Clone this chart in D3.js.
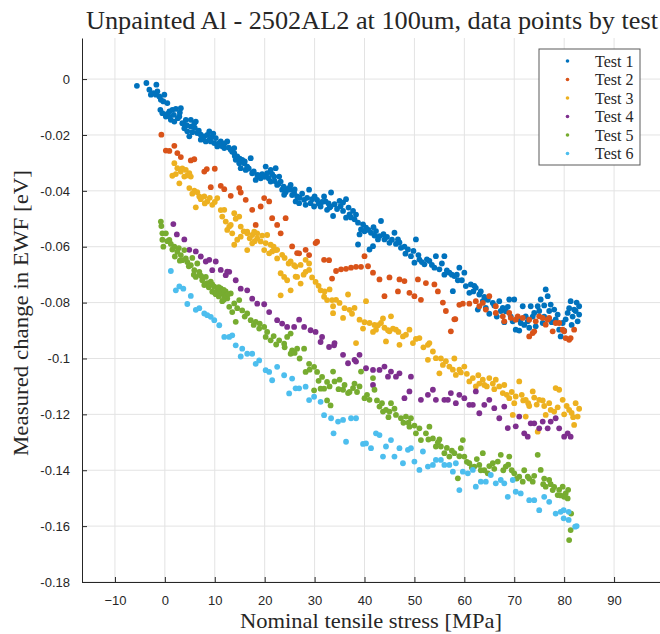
<!DOCTYPE html>
<html lang="en">
<head>
    <meta charset="UTF-8">
    <title>Unpainted Al - 2502AL2 at 100um, data points by test</title>
    <script src="https://d3js.org/d3.v7.min.js"></script>
    <style>
        body { margin: 0; background: #fff; }
        .tick text { font-family: "Liberation Sans", Arial, sans-serif; font-size: 13px; fill: #262626; }
        .serif { font-family: "Liberation Serif", "Times New Roman", serif; fill: #262626; }
        .grid line { stroke: #e3e3e3; stroke-width: 1px; }
    </style>
</head>
<body>
    <svg width="660" height="634"></svg>

    <script>
        // data: [stress MPa, change in EWF eV]
        var test1 = [[-5.6,-0.0024],[-3.7,-0.0014],[-1.7,-0.0020],[-3.1,-0.0038],[-2.8,-0.0056],[-2.3,-0.0050],[-1.5,-0.0044],[-1.1,-0.0062],[-0.8,-0.0074],[-0.3,-0.0080],[-1.8,-0.0056],[-0.1,-0.0056],[0.5,-0.0086],
            [-0.9,-0.0110],[-0.5,-0.0122],[0.2,-0.0134],[0.9,-0.0116],[1.5,-0.0110],[2.2,-0.0107],[3.2,-0.0104],[1.2,-0.0146],[1.9,-0.0152],[2.9,-0.0134],[3.5,-0.0158],[3.9,-0.0176],[4.5,-0.0187],[4.9,-0.0205],[5.2,-0.0170],[5.9,-0.0158],[6.2,-0.0152],[5.2,-0.0146],[4.2,-0.0146],
            [6.5,-0.0193],[7.2,-0.0199],[7.9,-0.0205],[8.2,-0.0223],[8.9,-0.0187],[9.5,-0.0205],[9.9,-0.0229],[7.2,-0.0217],[9.2,-0.0223],[10.2,-0.0211],
            [10.5,-0.0241],[11.2,-0.0223],[11.9,-0.0247],[12.5,-0.0223],[13.2,-0.0253],[13.9,-0.0265],[13.9,-0.0247],[14.2,-0.0289],[14.5,-0.0277],[14.9,-0.0301],[15.2,-0.0319],[15.5,-0.0289],[15.9,-0.0301],[16.2,-0.0325],[16.5,-0.0313],[17.2,-0.0283],[17.5,-0.0337],[18.2,-0.0361],[18.5,-0.0343],[19.2,-0.0355],
            [20.2,-0.0313],[20.5,-0.0337],[21.2,-0.0367],[21.2,-0.0325],[21.9,-0.0349],[22.2,-0.0319],[22.5,-0.0379],[22.9,-0.0349],[23.2,-0.0367],[23.5,-0.0396],[23.9,-0.0414],[24.5,-0.0396],[25.2,-0.0379],[25.2,-0.0396],[25.9,-0.0408],[26.2,-0.0438],[26.5,-0.0420],[26.9,-0.0444],[27.9,-0.0432],[28.2,-0.0450],[28.9,-0.0396],[29.2,-0.0444],[29.9,-0.0456],[30.5,-0.0432],[31.2,-0.0456],[31.9,-0.0420],[32.2,-0.0438],[32.5,-0.0468],[33.2,-0.0456],
            [33.3,-0.0406],[33.0,-0.0460],[34.0,-0.0448],[33.7,-0.0490],[35.0,-0.0436],[35.7,-0.0442],[36.3,-0.0430],[35.7,-0.0472],[36.3,-0.0496],[37.0,-0.0484],[37.7,-0.0472],[38.0,-0.0502],[38.7,-0.0514],[39.3,-0.0538],[39.0,-0.0556],[40.3,-0.0532],[41.3,-0.0550],[42.3,-0.0544],[43.0,-0.0562],[43.3,-0.0508],[42.7,-0.0574],[44.0,-0.0574],[45.0,-0.0586],[46.0,-0.0550],[46.7,-0.0574],[41.7,-0.0598],[38.7,-0.0592],[41.0,-0.0610],
            [47.3,-0.0604],[48.7,-0.0610],[49.3,-0.0634],[50.3,-0.0574],[50.0,-0.0657],[51.0,-0.0646],[52.0,-0.0663],[53.0,-0.0651],[54.3,-0.0634],[56.0,-0.0634],[54.0,-0.0675],[55.0,-0.0681],[56.0,-0.0700],[57.0,-0.0693],[58.0,-0.0705],[57.7,-0.0759],[59.0,-0.0675],[60.0,-0.0693],[60.3,-0.0741],[61.3,-0.0735],[62.3,-0.0747],[63.0,-0.0771],[63.7,-0.0795],[62.7,-0.0825],[64.3,-0.0819],[65.7,-0.0801],
            [67.0,-0.0795],[67.7,-0.0819],[69.0,-0.0789],[68.3,-0.0831],[69.7,-0.0867],[70.3,-0.0897],[71.3,-0.0873],[72.3,-0.0849],[73.3,-0.0813],[74.0,-0.0837],[74.7,-0.0813],[75.3,-0.0789],[76.3,-0.0753],[76.7,-0.0777],[77.3,-0.0807],[78.0,-0.0825],[78.7,-0.0843],[79.0,-0.0897],[79.7,-0.0873],[80.7,-0.0837],[81.3,-0.0795],[82.0,-0.0825],[83.0,-0.0813],[82.7,-0.0867],[83.0,-0.0843],[70.0,-0.0789],[72.7,-0.0867],[74.3,-0.0885],[75.7,-0.0873],[71.7,-0.0813],[79.3,-0.0921],
            [58.7,-0.0720],[61.0,-0.0765],[64.0,-0.0780],[65.0,-0.0840],[66.5,-0.0850],[68.0,-0.0870],[71.0,-0.0900],[73.0,-0.0890],[76.0,-0.0850],[77.5,-0.0870],[80.0,-0.0900],[81.5,-0.0880],[82.5,-0.0800],
            [0.5,-0.0125],[1.0,-0.0135],[1.8,-0.0128],[2.6,-0.0140],[3.0,-0.0120],[3.8,-0.0160],[4.4,-0.0165],[5.5,-0.0190],[6.0,-0.0175],[6.8,-0.0185],[7.5,-0.0210],[8.5,-0.0200],[9.0,-0.0215],[9.7,-0.0195],[10.8,-0.0230],[11.5,-0.0240],[12.0,-0.0230],[12.8,-0.0245],[13.5,-0.0260],[14.0,-0.0275],[15.0,-0.0285],[16.0,-0.0295],[16.8,-0.0320],[17.8,-0.0330],[18.8,-0.0345],[19.5,-0.0340],[20.0,-0.0350],[20.8,-0.0355],[21.5,-0.0340],[22.0,-0.0365],[22.8,-0.0375],[23.8,-0.0385],[24.2,-0.0405],[24.8,-0.0390],[25.5,-0.0415],[26.0,-0.0395],[27.0,-0.0425],[27.5,-0.0410],[28.5,-0.0425],[29.5,-0.0430],[30.0,-0.0420],[30.8,-0.0445],[31.5,-0.0440],[32.8,-0.0445],
            [34.5,-0.0465],[35.2,-0.0455],[36.8,-0.0460],[37.3,-0.0495],[38.3,-0.0485],[39.7,-0.0520],[40.0,-0.0545],[40.8,-0.0540],[41.8,-0.0530],[42.0,-0.0560],[43.8,-0.0555],[44.5,-0.0565],[45.5,-0.0575],[46.3,-0.0590],[47.0,-0.0585],[48.0,-0.0600],[48.2,-0.0625],[49.8,-0.0615],[50.8,-0.0630],[51.5,-0.0655],[52.5,-0.0645],[53.5,-0.0665],[55.5,-0.0660],[56.5,-0.0685],[57.5,-0.0700],[58.5,-0.0700],[59.5,-0.0720],[61.8,-0.0760],[62.0,-0.0740],[63.3,-0.0760],[64.7,-0.0790],[66.0,-0.0810],[67.3,-0.0830],[68.7,-0.0815],[69.3,-0.0850],[71.0,-0.0860],[72.0,-0.0880],[73.7,-0.0850],[75.0,-0.0830],[76.0,-0.0810],[77.0,-0.0830],[78.3,-0.0860],[80.3,-0.0860],[81.0,-0.0820],[82.3,-0.0830],[81.7,-0.0850]];

        var test2 = [[-0.7,-0.0199],[0.2,-0.0256],[0.9,-0.0257],[1.9,-0.0239],[2.5,-0.0265],[3.2,-0.0279],[5.2,-0.0291],[5.9,-0.0287],[7.9,-0.0331],[8.4,-0.0322],[10.0,-0.0321],[9.2,-0.0387],[11.2,-0.0382],[11.9,-0.0394],[13.2,-0.0418],[14.9,-0.0390],[15.2,-0.0406],[16.2,-0.0432],[17.5,-0.0468],[19.2,-0.0456],[19.9,-0.0426],[20.9,-0.0438],
            [21.5,-0.0498],[22.5,-0.0522],[24.2,-0.0498],[23.2,-0.0552],[18.2,-0.0522],[25.5,-0.0599],[26.5,-0.0623],[28.2,-0.0611],[30.2,-0.0587],[30.5,-0.0582],[31.9,-0.0647],[26.9,-0.0624],[28.9,-0.0630],[32.9,-0.0648],[33.5,-0.0714],
            [34.3,-0.0687],[35.3,-0.0681],[36.3,-0.0679],[37.3,-0.0675],[38.3,-0.0672],[39.3,-0.0672],[40.0,-0.0634],[40.7,-0.0670],[41.7,-0.0693],[43.0,-0.0717],[45.0,-0.0710],[47.0,-0.0717],[48.0,-0.0723],[44.0,-0.0777],[46.7,-0.0760],[49.0,-0.0765],[50.0,-0.0777],[51.3,-0.0790],[50.7,-0.0717],[52.3,-0.0730],[54.0,-0.0735],[54.7,-0.0760],[55.7,-0.0800],[56.3,-0.0830],[58.0,-0.0860],[57.3,-0.0903],[58.2,-0.0859],
            [59.0,-0.0808],[59.7,-0.0804],[61.0,-0.0804],[62.3,-0.0795],[63.7,-0.0801],[65.0,-0.0777],[66.3,-0.0813],[63.0,-0.0813],[64.3,-0.0825],[66.3,-0.0837],[67.7,-0.0849],[69.0,-0.0837],[70.3,-0.0861],[71.7,-0.0855],[73.0,-0.0861],[74.3,-0.0867],[75.7,-0.0855],[77.0,-0.0855],[78.3,-0.0873],[79.7,-0.0897],[81.0,-0.0933],[82.0,-0.0897],[73.0,-0.0921],[73.7,-0.0909],[77.7,-0.0903],
            [68.0,-0.0867],[69.3,-0.0855],[70.7,-0.0849],[75.0,-0.0849],[76.7,-0.0861],[79.0,-0.0873],[80.0,-0.0903],[80.3,-0.0927],[74.0,-0.0903],[76.3,-0.0879],[81.3,-0.0927]];

        var test3 = [[1.9,-0.0301],[1.5,-0.0346],[2.5,-0.0319],[3.2,-0.0331],[4.2,-0.0325],[4.9,-0.0337],[3.9,-0.0349],[5.2,-0.0349],[2.9,-0.0373],[4.9,-0.0390],[5.9,-0.0399],[6.9,-0.0420],[6.2,-0.0459],[7.9,-0.0420],[8.5,-0.0438],[9.5,-0.0450],[10.5,-0.0426],[11.9,-0.0468],[11.5,-0.0492],[12.2,-0.0510],[12.9,-0.0528],[13.9,-0.0480],[14.9,-0.0492],[12.5,-0.0540],[13.9,-0.0593],[15.2,-0.0564],[16.5,-0.0546],[17.5,-0.0558],[18.5,-0.0552],[19.2,-0.0581],[20.2,-0.0587],[21.5,-0.0617],[22.5,-0.0611],[23.5,-0.0629],[25.2,-0.0653],[26.2,-0.0671],[27.2,-0.0665],[28.2,-0.0647],[28.9,-0.0683],[23.2,-0.0695],[26.2,-0.0707],
            [11.2,-0.0469],[13.2,-0.0522],[15.2,-0.0528],[13.5,-0.0552],[16.5,-0.0552],[17.9,-0.0546],[18.5,-0.0570],[20.5,-0.0558],[21.2,-0.0593],[16.5,-0.0612],[17.5,-0.0588],[19.9,-0.0612],[20.9,-0.0624],[22.2,-0.0612],[22.5,-0.0642],[23.9,-0.0708],[23.2,-0.0774],[25.2,-0.0756],[24.5,-0.0720],[25.9,-0.0666],[26.5,-0.0708],[27.2,-0.0732],[28.2,-0.0690],[28.9,-0.0660],[30.2,-0.0726],[31.2,-0.0756],[31.9,-0.0779],[32.5,-0.0791],[33.5,-0.0791],
            [33.0,-0.0753],[33.7,-0.0813],[35.0,-0.0801],[36.7,-0.0771],[38.0,-0.0819],[40.3,-0.0795],[39.0,-0.0861],[41.0,-0.0873],[42.3,-0.0897],[43.3,-0.0873],[45.3,-0.0849],[45.0,-0.0903],[46.3,-0.0897],[47.7,-0.0921],[49.0,-0.0897],[51.0,-0.0927],[52.7,-0.0951],[38.3,-0.0945],
            [33.7,-0.0838],[35.7,-0.0855],[37.0,-0.0826],[39.7,-0.0893],[41.7,-0.0905],[42.7,-0.0881],[43.7,-0.0857],[44.7,-0.0899],[45.7,-0.0893],[49.7,-0.0945],[47.0,-0.0951],[44.3,-0.0939],[53.0,-0.0945],[52.7,-0.1005],[54.3,-0.0999],[55.7,-0.1023],[57.0,-0.1029],[58.3,-0.1059],[55.0,-0.1053],[60.0,-0.1029],
            [61.0,-0.1082],[62.3,-0.1100],[63.7,-0.1076],[65.0,-0.1070],[66.3,-0.1076],[67.7,-0.1124],[69.0,-0.1142],[70.3,-0.1136],[71.0,-0.1082],[72.3,-0.1148],[73.7,-0.1118],[75.0,-0.1148],[76.3,-0.1202],[77.3,-0.1184],[78.3,-0.1106],[79.0,-0.1112],[79.7,-0.1148],[81.0,-0.1184],[82.3,-0.1160],[82.7,-0.1208],[82.0,-0.1238],[74.7,-0.1262],[72.3,-0.1208],[69.7,-0.1202],
            [58.0,-0.1000],[59.0,-0.1040],[60.5,-0.1055],[63.0,-0.1090],[64.5,-0.1100],[66.0,-0.1110],[68.0,-0.1095],[70.0,-0.1160],[71.5,-0.1130],[73.0,-0.1170],[74.0,-0.1140],[76.0,-0.1170],[78.0,-0.1190],[80.0,-0.1200],[81.5,-0.1195],
            [2.2,-0.0340],[3.5,-0.0320],[4.5,-0.0345],[5.5,-0.0410],[6.5,-0.0405],[7.2,-0.0430],[8.0,-0.0445],[9.0,-0.0425],[10.0,-0.0440],[14.2,-0.0500],[14.5,-0.0575],[15.8,-0.0545],[17.0,-0.0570],[18.0,-0.0580],[19.5,-0.0560],[21.8,-0.0600],[24.0,-0.0640],[24.8,-0.0660],[27.8,-0.0700],[29.5,-0.0710],[30.8,-0.0740],[32.0,-0.0760],[34.3,-0.0790],[36.0,-0.0820],[37.5,-0.0840],[40.0,-0.0870],[42.0,-0.0880],[44.0,-0.0890],[46.8,-0.0905],[48.3,-0.0915],[50.3,-0.0930],[51.8,-0.0960],[53.7,-0.0975],[55.3,-0.1000],[56.3,-0.1010],[57.7,-0.1040],[59.3,-0.1050],[61.7,-0.1070],[62.8,-0.1060],[64.0,-0.1095],[65.7,-0.1090],[67.0,-0.1100],[68.5,-0.1130],[69.5,-0.1120],[71.8,-0.1150],[72.8,-0.1160],[74.5,-0.1165],[75.7,-0.1150],[77.0,-0.1160],[78.7,-0.1175],[80.5,-0.1170],[81.8,-0.1210],[83.0,-0.1180]];

        var test4 = [[1.7,-0.0519],[2.4,-0.0556],[3.9,-0.0574],[4.9,-0.0611],[6.2,-0.0617],[7.2,-0.0635],[8.2,-0.0653],[8.9,-0.0647],[10.2,-0.0653],[11.2,-0.0683],[12.5,-0.0689],[9.5,-0.0684],[12.2,-0.0702],[12.9,-0.0690],[14.2,-0.0720],[15.2,-0.0750],[16.5,-0.0756],[17.5,-0.0786],[18.5,-0.0804],[19.9,-0.0806],[20.9,-0.0834],[22.5,-0.0863],[23.5,-0.0875],[24.5,-0.0887],[25.9,-0.0887],[26.9,-0.0861],[27.9,-0.0887],[29.2,-0.0899],[30.2,-0.0905],[31.5,-0.0923],[31.2,-0.0941],[32.9,-0.0959],[33.9,-0.0953],
            [34.0,-0.0945],[35.7,-0.0987],[36.7,-0.1017],[38.0,-0.1005],[39.0,-0.0987],[38.3,-0.1011],[40.3,-0.1035],[41.7,-0.1041],[43.0,-0.1041],[44.0,-0.1029],[45.3,-0.1047],[41.7,-0.1095],[44.7,-0.1065],[47.0,-0.1053],[46.3,-0.1065],[48.0,-0.1142],[49.3,-0.1065],[49.0,-0.1118],[51.3,-0.1148],[52.7,-0.1130],[53.7,-0.1112],[54.3,-0.1148],[56.0,-0.1148],[56.7,-0.1148],[57.3,-0.1124],[58.3,-0.1160],[59.0,-0.1130],[60.0,-0.1142],
            [61.0,-0.1166],[61.7,-0.1166],[62.3,-0.1118],[63.0,-0.1196],[64.0,-0.1166],[65.0,-0.1148],[66.0,-0.1178],[67.0,-0.1214],[68.0,-0.1172],[68.7,-0.1249],[70.3,-0.1243],[71.0,-0.1208],[72.0,-0.1268],[72.7,-0.1280],[73.3,-0.1232],[74.0,-0.1232],[75.0,-0.1250],[75.7,-0.1226],[76.7,-0.1250],[77.3,-0.1226],[78.3,-0.1214],[79.0,-0.1250],[80.0,-0.1280],[80.7,-0.1268],[81.3,-0.1280]];

        var test5 = [[-0.8,-0.0510],[-0.7,-0.0526],[-0.5,-0.0552],[-0.3,-0.0600],[0.2,-0.0552],[0.9,-0.0576],[1.9,-0.0600],[2.5,-0.0618],[3.2,-0.0630],[3.9,-0.0612],[4.2,-0.0642],[3.5,-0.0648],[5.2,-0.0666],[5.9,-0.0684],[6.2,-0.0708],[6.9,-0.0690],[7.5,-0.0720],[8.2,-0.0708],[7.9,-0.0737],[9.2,-0.0725],[9.9,-0.0743],[9.5,-0.0761],[10.5,-0.0755],[11.2,-0.0749],[11.5,-0.0767],[11.9,-0.0779],[12.5,-0.0785],[13.2,-0.0767],[12.9,-0.0815],[13.9,-0.0803],[14.9,-0.0791],[13.5,-0.0834],[14.2,-0.0869],[15.5,-0.0828],[16.5,-0.0839],[17.2,-0.0863],[18.2,-0.0869],[18.9,-0.0893],[19.9,-0.0887],[20.5,-0.0905],[21.2,-0.0935],[20.2,-0.0923],[22.9,-0.0935],[23.9,-0.0947],[24.5,-0.0923],[25.2,-0.0911],[25.5,-0.0971],[26.5,-0.0965],[27.9,-0.0965],[25.2,-0.0983],[28.9,-0.1019],[28.2,-0.1048],[29.9,-0.1030],[30.5,-0.1048],[31.5,-0.1066],[31.9,-0.1108],[32.5,-0.1084],[31.2,-0.1108],[29.9,-0.1114],[32.5,-0.1150],[33.2,-0.1168],
            [1.2,-0.0590],[2.0,-0.0635],[2.8,-0.0605],[4.5,-0.0655],[5.5,-0.0640],[6.5,-0.0660],[7.0,-0.0700],[8.5,-0.0730],[10.0,-0.0765],[10.8,-0.0778],[11.5,-0.0795],[12.2,-0.0760],[10.8,-0.0745],[-0.5,-0.0575],
            [33.7,-0.1047],[34.0,-0.1082],[35.0,-0.1076],[35.7,-0.1112],[36.7,-0.1124],[37.7,-0.1106],[39.0,-0.1100],[39.3,-0.1047],[40.0,-0.1142],[41.0,-0.1148],[41.7,-0.1070],[42.0,-0.1112],[43.0,-0.1172],[43.7,-0.1190],[44.3,-0.1184],[45.3,-0.1160],[46.3,-0.1202],[47.3,-0.1214],[48.3,-0.1208],[49.3,-0.1214],[49.0,-0.1244],[50.3,-0.1268],[51.3,-0.1292],[52.3,-0.1268],[53.7,-0.1286],[53.0,-0.1244],[54.3,-0.1315],[55.3,-0.1315],[56.0,-0.1339],[57.0,-0.1351],[58.0,-0.1339],[59.3,-0.1321],[59.7,-0.1292],[58.7,-0.1429],[60.0,-0.1351],
            [61.0,-0.1375],[62.0,-0.1387],[63.0,-0.1381],[63.7,-0.1339],[64.7,-0.1411],[65.7,-0.1375],[66.7,-0.1369],[67.3,-0.1345],[68.3,-0.1387],[69.0,-0.1351],[70.0,-0.1411],[71.0,-0.1423],[71.7,-0.1441],[72.7,-0.1423],[73.7,-0.1441],[74.7,-0.1345],[75.3,-0.1399],[76.3,-0.1459],[77.0,-0.1435],[77.7,-0.1471],[78.7,-0.1489],[79.7,-0.1459],[80.3,-0.1483],[80.7,-0.1501],[81.3,-0.1614],[81.0,-0.1650],[81.4,-0.1555],
            [36.0,-0.1095],[38.5,-0.1120],[42.5,-0.1150],[45.0,-0.1190],[47.8,-0.1230],[51.0,-0.1250],[55.0,-0.1290],[56.5,-0.1320],[60.5,-0.1370],[62.5,-0.1360],[64.0,-0.1400],[66.0,-0.1395],[69.5,-0.1400],[72.0,-0.1400],[74.0,-0.1420],[76.0,-0.1430],[78.0,-0.1460],[79.0,-0.1470],[80.0,-0.1495],
            [0.5,-0.0580],[1.5,-0.0610],[3.0,-0.0650],[4.8,-0.0670],[5.8,-0.0700],[7.3,-0.0705],[8.8,-0.0745],[9.5,-0.0735],[10.2,-0.0770],[11.0,-0.0765],[12.0,-0.0770],[11.8,-0.0790],[11.3,-0.0760],[11.8,-0.0755],[12.3,-0.0775],[12.7,-0.0770],[14.5,-0.0820],[16.0,-0.0850],[17.8,-0.0880],[19.0,-0.0875],[21.8,-0.0920],[22.3,-0.0950],[24.0,-0.0960],[26.0,-0.0980],[27.0,-0.1000],[29.0,-0.1040],[30.8,-0.1080],[33.0,-0.1100],[34.8,-0.1110],[37.0,-0.1120],[38.0,-0.1090],[40.5,-0.1130],[43.5,-0.1160],[44.8,-0.1210],[46.0,-0.1180],[48.8,-0.1230],[50.0,-0.1240],[52.8,-0.1290],[54.7,-0.1300],[57.5,-0.1330],[59.0,-0.1350],[61.5,-0.1390],[63.3,-0.1400],[65.0,-0.1385],[67.8,-0.1400],[68.8,-0.1380],[70.5,-0.1430],[73.0,-0.1430],[75.8,-0.1450],[77.3,-0.1450],[79.3,-0.1490],[80.8,-0.1470]];

        var test6 = [[1.2,-0.0687],[2.2,-0.0756],[2.9,-0.0742],[3.7,-0.0750],[5.2,-0.0776],[4.5,-0.0805],[6.2,-0.0826],[6.9,-0.0820],[7.9,-0.0839],[8.5,-0.0845],[9.2,-0.0851],[9.9,-0.0863],[10.9,-0.0881],[11.9,-0.0923],[12.9,-0.0923],[13.5,-0.0917],[14.2,-0.0953],[15.5,-0.0965],[16.5,-0.0983],[17.5,-0.0983],[15.2,-0.0993],[18.9,-0.1007],[18.2,-0.1019],[20.2,-0.1042],[20.9,-0.1048],[21.5,-0.1078],[22.5,-0.1030],[23.9,-0.1060],[25.5,-0.1072],[24.9,-0.1125],[26.2,-0.1107],[26.9,-0.1107],[28.2,-0.1101],[28.9,-0.1149],[29.9,-0.1137],[31.2,-0.1155],[31.9,-0.1203],
            [33.3,-0.1214],[34.7,-0.1226],[35.7,-0.1220],[37.3,-0.1214],[38.3,-0.1214],[33.8,-0.1268],[36.3,-0.1298],[39.7,-0.1306],[40.3,-0.1304],[41.3,-0.1321],[42.3,-0.1268],[43.0,-0.1274],[44.3,-0.1315],[45.3,-0.1292],[43.7,-0.1351],[46.0,-0.1351],[47.0,-0.1321],[48.7,-0.1327],[49.3,-0.1321],[47.7,-0.1375],[50.0,-0.1369],[51.0,-0.1399],[51.7,-0.1333],[52.7,-0.1387],[53.7,-0.1381],[54.3,-0.1363],[55.3,-0.1363],[56.0,-0.1381],[57.0,-0.1381],[58.3,-0.1375],[57.7,-0.1405],[59.0,-0.1471],[59.7,-0.1405],[60.7,-0.1411],
            [61.7,-0.1399],[62.3,-0.1459],[63.3,-0.1441],[64.3,-0.1441],[65.3,-0.1417],[66.3,-0.1447],[67.3,-0.1435],[68.0,-0.1447],[68.7,-0.1495],[69.7,-0.1435],[70.3,-0.1477],[71.3,-0.1483],[73.0,-0.1507],[74.0,-0.1507],[75.0,-0.1543],[76.0,-0.1495],[77.0,-0.1513],[78.3,-0.1555],[79.3,-0.1549],[79.9,-0.1543],[80.9,-0.1549],[79.9,-0.1572],[80.9,-0.1578],[82.2,-0.1602],[82.5,-0.1600]];

        var seriesNames = ["Test 1", "Test 2", "Test 3", "Test 4", "Test 5", "Test 6"];
        var seriesData = [test1, test2, test3, test4, test5, test6];
        var colors = ["#0072BD", "#D95319", "#EDB120", "#7E2F8E", "#77AC30", "#4DBEEE"];
        var xTicks = [-10, 0, 10, 20, 30, 40, 50, 60, 70, 80, 90];
        var yTicks = [0, -0.02, -0.04, -0.06, -0.08, -0.1, -0.12, -0.14, -0.16, -0.18];

        var margin = { top: 38, right: 0, bottom: 52, left: 82 },
            width = 660 - margin.left - margin.right,
            height = 634 - margin.top - margin.bottom;

        var svg = d3.select("svg")
                    .append("g")
                    .attr("transform", "translate(" + margin.left + "," + margin.top + ")");

        var x = d3.scaleLinear().domain([-16.6, 99.2]).range([0, width]);
        var y = d3.scaleLinear().domain([-0.18, 0.0147]).range([height, 0]);

        // grid
        svg.append("g").attr("class", "grid")
           .selectAll("line").data(xTicks).enter().append("line")
           .attr("x1", function(d) { return x(d); }).attr("x2", function(d) { return x(d); })
           .attr("y1", 0).attr("y2", height);
        svg.append("g").attr("class", "grid")
           .selectAll("line").data(yTicks).enter().append("line")
           .attr("y1", function(d) { return y(d); }).attr("y2", function(d) { return y(d); })
           .attr("x1", 0).attr("x2", width);

        // axes, MATLAB style: ticks pointing inward
        var xAxis = svg.append("g")
           .attr("transform", "translate(0," + height + ")")
           .call(d3.axisBottom(x).tickValues(xTicks).tickSizeInner(-5).tickSizeOuter(0).tickPadding(14)
                 .tickFormat(d3.format("d")));
        var yAxis = svg.append("g")
           .call(d3.axisLeft(y).tickValues(yTicks).tickSizeInner(-5).tickSizeOuter(0).tickPadding(12)
                 .tickFormat(function(d) { return d === 0 ? "0" : String(+d.toFixed(2)); }));
        [xAxis, yAxis].forEach(function(a) {
            a.select(".domain").attr("stroke", "#262626");
            a.selectAll(".tick line").attr("stroke", "#262626");
        });

        // points
        seriesData.forEach(function(data, i) {
            svg.append("g")
               .selectAll("circle").data(data).enter().append("circle")
               .attr("cx", function(d) { return x(d[0]); })
               .attr("cy", function(d) { return y(d[1]); })
               .attr("r", 2.9)
               .attr("fill", colors[i]);
        });

        // title and labels
        svg.append("text")
           .attr("class", "serif")
           .attr("x", width / 2 + 1)
           .attr("y", -9)
           .attr("text-anchor", "middle")
           .attr("textLength", 572)
           .attr("lengthAdjust", "spacingAndGlyphs")
           .style("font-size", "25px")
           .text("Unpainted Al - 2502AL2 at 100um, data points by test");

        svg.append("text")
           .attr("class", "serif")
           .attr("x", width / 2)
           .attr("y", height + 46)
           .attr("text-anchor", "middle")
           .attr("textLength", 262)
           .attr("lengthAdjust", "spacingAndGlyphs")
           .style("font-size", "21px")
           .text("Nominal tensile stress [MPa]");

        svg.append("text")
           .attr("class", "serif")
           .attr("transform", "rotate(-90)")
           .attr("x", -height / 2 - 3)
           .attr("y", -margin.left + 28)
           .attr("text-anchor", "middle")
           .attr("textLength", 286)
           .attr("lengthAdjust", "spacingAndGlyphs")
           .style("font-size", "21px")
           .text("Measured change in EWF [eV]");

        // legend
        var legend = svg.append("g").attr("transform", "translate(" + (539 - margin.left) + "," + (49 - margin.top) + ")");
        legend.append("rect")
              .attr("width", 101).attr("height", 116)
              .attr("fill", "#fff").attr("stroke", "#5a5a5a").attr("stroke-width", 1);
        var rows = legend.selectAll(".row").data(seriesNames).enter().append("g")
              .attr("transform", function(d, i) { return "translate(0," + (12 + i * 18.5) + ")"; });
        rows.append("circle").attr("cx", 28.5).attr("cy", 0).attr("r", 1.8)
            .attr("fill", function(d, i) { return colors[i]; });
        rows.append("text").attr("class", "serif")
            .attr("x", 56).attr("y", 5.5)
            .style("font-size", "16px")
            .text(function(d) { return d; });
    </script>
</body>
</html>
